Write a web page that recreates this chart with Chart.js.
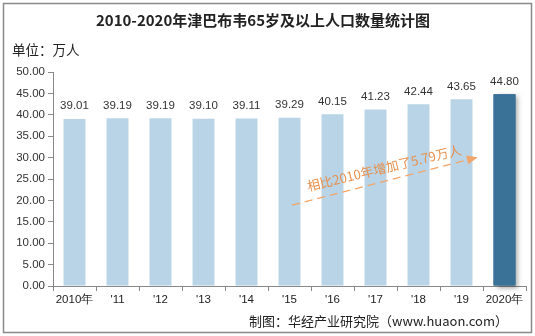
<!DOCTYPE html>
<html>
<head>
<meta charset="utf-8">
<script src="https://cdn.jsdelivr.net/npm/chart.js@4/dist/chart.umd.min.js"></script>
<style>
  html, body { margin: 0; padding: 0; background: #fff; }
  #wrap { position: relative; width: 535px; height: 336px; }
  canvas { display: block; }
</style>
</head>
<body>
<div id="wrap"><canvas id="c" width="535" height="336"></canvas></div>
<script>
// 津巴布韦65岁及以上人口（万人）
const years = ["2010年", "'11", "'12", "'13", "'14", "'15", "'16", "'17", "'18", "'19", "2020年"];
const population = [39.01, 39.19, 39.19, 39.10, 39.11, 39.29, 40.15, 41.23, 42.44, 43.65, 44.80];
const yTicks = [0, 5, 10, 15, 20, 25, 30, 35, 40, 45, 50];

const titleText = "2010-2020年津巴布韦65岁及以上人口数量统计图";
const unitText = "单位：万人";
const sourceText = "制图：华经产业研究院（www.huaon.com）";
const noteText = "相比2010年增加了5.79万人";

const lightBlue = "#B8D4E6";
const darkBlue = "#3A7196";
const barColors = population.map((v, i) => i === population.length - 1 ? darkBlue : lightBlue);
const numFont = "'Liberation Sans', Arial, sans-serif";

const decor = {
  id: "decor",
  beforeDatasetsDraw(chart) {
    // soft shadow behind the final bar
    const ctx = chart.ctx;
    const meta = chart.getDatasetMeta(0);
    const bar = meta.data[meta.data.length - 1];
    const w = bar.width;
    ctx.save();
    ctx.shadowColor = "rgba(0,0,0,0.35)";
    ctx.shadowBlur = 5;
    ctx.shadowOffsetX = 3;
    ctx.shadowOffsetY = 2;
    ctx.fillStyle = darkBlue;
    ctx.fillRect(bar.x - w / 2, bar.y, w, bar.base - bar.y);
    ctx.restore();
  },
  afterDatasetsDraw(chart) {
    const ctx = chart.ctx;
    const xs = chart.scales.x, ys = chart.scales.y;
    const meta = chart.getDatasetMeta(0);

    // value labels
    ctx.save();
    ctx.font = "11.5px " + numFont;
    ctx.fillStyle = "#333";
    ctx.textAlign = "center";
    ctx.textBaseline = "bottom";
    meta.data.forEach((el, i) => {
      ctx.fillText(population[i].toFixed(2), el.x, el.y - 7);
    });
    ctx.restore();

    // dashed growth arrow
    const x0 = xs.getPixelForValue(5.06), y0 = ys.getPixelForValue(18.9);
    const x1 = xs.getPixelForValue(9.38), y1 = ys.getPixelForValue(30.1);
    const ang = Math.atan2(y1 - y0, x1 - x0);
    ctx.save();
    ctx.strokeStyle = "#F2A56A";
    ctx.fillStyle = "#F2A56A";
    ctx.lineWidth = 1.5;
    ctx.setLineDash([8, 5]);
    ctx.beginPath();
    ctx.moveTo(x0, y0);
    ctx.lineTo(x1 - 8 * Math.cos(ang), y1 - 8 * Math.sin(ang));
    ctx.stroke();
    ctx.setLineDash([]);
    ctx.beginPath();
    ctx.moveTo(x1, y1);
    ctx.lineTo(x1 - 11 * Math.cos(ang) + 4.5 * Math.sin(ang), y1 - 11 * Math.sin(ang) - 4.5 * Math.cos(ang));
    ctx.lineTo(x1 - 11 * Math.cos(ang) - 4.5 * Math.sin(ang), y1 - 11 * Math.sin(ang) + 4.5 * Math.cos(ang));
    ctx.closePath();
    ctx.fill();

    // rotated note
    const tx = xs.getPixelForValue(7.2), ty = ys.getPixelForValue(27.6);
    ctx.translate(tx, ty);
    ctx.rotate(-13.6 * Math.PI / 180);
    ctx.font = "13px 'Noto Sans CJK SC', sans-serif";
    ctx.fillStyle = "#E8904E";
    ctx.textAlign = "center";
    ctx.textBaseline = "middle";
    ctx.fillText(noteText, 0, 0);
    ctx.restore();
  },
  afterDraw(chart) {
    const ctx = chart.ctx;
    ctx.save();
    // title
    ctx.font = "bold 15px 'Noto Sans CJK SC', sans-serif";
    ctx.fillStyle = "#222";
    ctx.textAlign = "center";
    ctx.textBaseline = "middle";
    ctx.fillText(titleText, 263, 20);
    // unit
    ctx.font = "13.5px 'Noto Sans CJK SC', sans-serif";
    ctx.textAlign = "left";
    ctx.fillText(unitText, 12, 50);
    // source
    ctx.font = "13px 'Noto Sans CJK SC', sans-serif";
    ctx.textAlign = "right";
    ctx.fillText(sourceText, 508, 321);
    // frame
    ctx.strokeStyle = "#8A8A8A";
    ctx.lineWidth = 1.5;
    ctx.strokeRect(3.5, 3.5, 528, 329);
    ctx.restore();
  }
};

new Chart(document.getElementById("c"), {
  type: "bar",
  data: {
    labels: years,
    datasets: [{
      data: population,
      backgroundColor: barColors,
      borderWidth: 0,
      barPercentage: 0.51,
      categoryPercentage: 1.0
    }]
  },
  options: {
    responsive: false,
    animation: false,
    events: [],
    layout: { padding: { left: 0, right: 9, top: 72, bottom: 30 } },
    plugins: { legend: { display: false }, tooltip: { enabled: false }, title: { display: false } },
    scales: {
      x: {
        grid: { display: true, drawOnChartArea: false, drawTicks: true, tickLength: 5, color: "#888", offset: true },
        border: { display: true, color: "#888" },
        ticks: { color: "#222", font: { size: 11.5, family: numFont }, padding: 2, maxRotation: 0, autoSkip: false },
        afterFit(scale) { scale.height = 20; }
      },
      y: {
        min: 0, max: 50,
        afterBuildTicks(scale) { scale.ticks = yTicks.map(v => ({ value: v })); },
        grid: { display: true, drawOnChartArea: false, drawTicks: true, tickLength: 5, color: "#888" },
        border: { display: true, color: "#888" },
        ticks: { color: "#333", font: { size: 11.5, family: numFont }, padding: 3, callback: v => Number(v).toFixed(2) },
        afterFit(scale) { scale.width = 53; }
      }
    }
  },
  plugins: [decor]
});
</script>
</body>
</html>
